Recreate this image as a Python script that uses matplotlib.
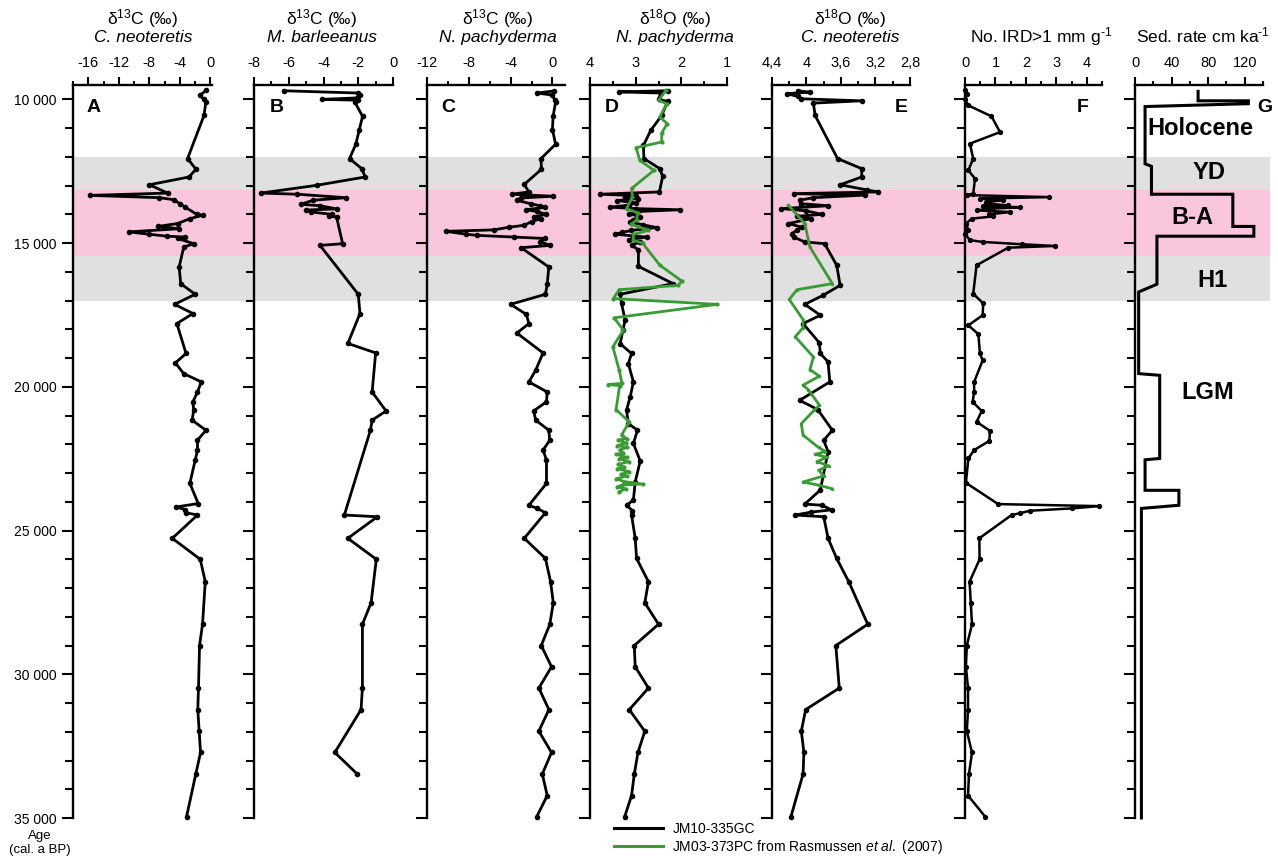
import matplotlib
matplotlib.use("Agg")
import matplotlib.pyplot as plt
from matplotlib.lines import Line2D
from matplotlib.ticker import FixedLocator

plt.rcParams["font.family"] = ["Liberation Sans", "DejaVu Sans"]
plt.rcParams["mathtext.fontset"] = "custom"
plt.rcParams["mathtext.rm"] = "Liberation Sans"
plt.rcParams["mathtext.it"] = "Liberation Sans:italic"
plt.rcParams["mathtext.bf"] = "Liberation Sans:bold"
plt.rcParams["axes.unicode_minus"] = False

# ---- data: (age cal. a BP, value) ----
a_d13c_cneo = [
    (9690, -0.6), (9860, -1.35), (10000, -0.9), (10090, -0.6), (10560, -0.85),
    (12060, -3.0), (12430, -1.9), (12700, -2.8), (12970, -8.0), (13260, -5.6),
    (13340, -15.8), (13420, -6.7), (13490, -4.8), (13630, -4.0), (13750, -3.3),
    (14000, -1.8), (14030, -1.0), (14150, -2.7), (14320, -4.3), (14420, -6.9),
    (14500, -4.1), (14610, -10.7), (14690, -8.1), (14760, -5.7), (14790, -3.3),
    (14840, -4.3), (15020, -2.2), (15140, -3.5), (15830, -4.1), (16410, -3.9),
    (16780, -2.0), (17130, -4.7), (17450, -2.3), (17800, -4.4), (18840, -3.2),
    (19170, -4.6), (19540, -3.5), (19830, -1.2), (20180, -1.7), (20520, -2.3),
    (20810, -2.2), (21160, -2.4), (21510, -0.6), (21860, -1.7), (22200, -1.7),
    (22550, -2.0), (23360, -2.7), (24060, -1.6), (24180, -4.5), (24270, -3.3),
    (24380, -3.2), (24460, -1.7), (25270, -5.0), (26000, -1.34), (26780, -0.68),
    (28260, -1.04), (29000, -1.43), (30480, -1.57), (31230, -1.66), (31980, -1.48),
    (32720, -1.3), (33470, -1.92), (34950, -3.13),
]

b_d13c_mbar = [
    (9700, -6.3), (9780, -2.0), (9850, -1.9), (9950, -2.1), (10000, -4.1),
    (10030, -2.0), (10090, -2.2), (10590, -1.75), (11080, -1.95), (11560, -2.14),
    (12060, -2.5), (12410, -1.8), (12700, -1.6), (12990, -4.4), (13260, -7.6),
    (13300, -5.5), (13420, -2.7), (13510, -4.6), (13650, -5.3), (13700, -4.2),
    (13810, -3.25), (13850, -5.0), (13920, -4.7), (14000, -3.5), (14070, -3.7),
    (14090, -3.25), (15020, -2.9), (15080, -4.2), (16780, -2.0), (17450, -1.9),
    (18490, -2.6), (18820, -1.0), (20180, -1.2), (20840, -0.4), (21160, -1.2),
    (21510, -1.3), (24460, -2.8), (24520, -0.9), (25270, -2.6), (26000, -0.96),
    (27510, -1.26), (28260, -1.76), (30480, -1.76), (31230, -1.84), (32720, -3.35),
    (33470, -2.06),
]

c_d13c_npach = [
    (9710, 0.1), (9780, -1.5), (9850, 0.0), (10010, 0.2), (10090, 0.3),
    (10590, 0.06), (11050, 0.0), (11560, 0.3), (12060, -1.1), (12430, -1.05),
    (12960, -2.7), (13220, -2.25), (13300, -3.9), (13370, 0.06), (13430, -3.0),
    (13510, -3.4), (13630, -2.1), (13700, -1.2), (13750, -0.67), (13840, -2.5),
    (13900, -1.5), (14000, -0.57), (14080, -1.8), (14150, -1.1), (14250, -2.0),
    (14380, -2.7), (14450, -4.2), (14540, -5.6), (14590, -10.2), (14690, -8.3),
    (14730, -7.2), (14790, -3.7), (14840, -0.67), (14950, -1.2), (15080, -0.2),
    (15160, -3.0), (15830, -0.35), (16430, -0.5), (16780, -0.67), (17130, -4.0),
    (17480, -2.5), (17800, -2.25), (18130, -3.4), (18820, -0.9), (19420, -1.6),
    (19830, -2.25), (20180, -0.5), (20520, -0.57), (20840, -1.8), (21160, -1.6),
    (21510, -0.35), (21860, -0.26), (22200, -0.9), (22550, -0.57), (23360, -0.57),
    (24120, -2.25), (24230, -1.46), (24380, -0.67), (25270, -2.7), (25970, -0.67),
    (26780, -0.18), (27510, 0.08), (28260, -0.25), (29000, -1.07), (29740, -0.09),
    (30480, -1.3), (31230, -0.34), (31980, -1.3), (32720, -0.09), (33470, -0.97),
    (34220, -0.5), (34950, -1.5),
]

d_d18o_npach = [
    (9700, 2.3), (9740, 3.36), (9780, 2.45), (10000, 2.5), (10070, 2.3),
    (10560, 2.43), (11080, 2.67), (11600, 2.83), (12060, 2.82), (12410, 2.47),
    (12680, 2.41), (13220, 2.48), (13300, 3.78), (13350, 3.0), (13390, 3.23),
    (13450, 2.95), (13520, 3.4), (13600, 3.0), (13680, 3.15), (13750, 3.56),
    (13800, 3.0), (13840, 2.03), (13900, 2.95), (13980, 3.15), (14080, 2.9),
    (14180, 3.05), (14270, 3.12), (14360, 2.85), (14460, 2.54), (14560, 3.1),
    (14630, 3.3), (14690, 3.45), (14750, 3.05), (14790, 2.76), (14880, 3.15),
    (14960, 2.9), (15080, 3.09), (15230, 2.94), (15810, 2.94), (16410, 2.18),
    (16780, 3.34), (17100, 3.31), (17680, 3.23), (18030, 3.28), (18500, 3.34),
    (18840, 3.09), (19190, 3.16), (19830, 3.05), (20350, 3.12), (20810, 3.2),
    (21280, 3.16), (21510, 2.96), (21970, 3.05), (22580, 2.9), (23310, 3.01),
    (23940, 3.05), (24120, 3.2), (24310, 3.07), (24460, 3.09), (25270, 3.01),
    (25970, 2.98), (26780, 2.72), (27510, 2.80), (28260, 2.50), (29000, 3.03),
    (29740, 3.01), (30480, 2.72), (31230, 3.14), (31980, 2.80), (32720, 2.95),
    (33470, 3.03), (34220, 3.09), (34950, 3.24),
]

# JM03-373PC (Rasmussen et al. 2007)
d_d18o_npach_373 = [
    (9690, 2.34), (10035, 2.5), (10150, 2.32), (10615, 2.47), (10845, 2.31),
    (11170, 2.43), (11485, 2.43), (11680, 2.99), (12120, 2.91), (12470, 2.6),
    (13100, 3.09), (13400, 3.07), (13800, 3.2), (13950, 2.95), (14200, 2.98),
    (14350, 3.1), (14555, 2.72), (14700, 3.05), (14900, 3.05), (15000, 2.85),
    (15770, 2.47), (16320, 1.99), (16470, 2.07), (16620, 3.36), (16930, 3.49),
    (17130, 1.21), (17600, 3.47), (18030, 3.27), (18610, 3.5), (19420, 3.36),
    (19880, 3.3), (19920, 3.6), (19960, 3.35), (20790, 3.43), (21220, 3.14),
    (21680, 3.31), (21800, 3.2), (21850, 3.38), (21950, 3.22), (22050, 3.4),
    (22100, 3.18), (22200, 3.35), (22300, 3.28), (22350, 3.42), (22450, 3.2),
    (22500, 3.36), (22600, 3.15), (22700, 3.38), (22800, 3.25), (22850, 3.4),
    (22950, 3.15), (23050, 3.32), (23100, 3.2), (23200, 3.42), (23300, 3.25),
    (23380, 2.85), (23420, 3.3), (23480, 3.4), (23550, 3.22), (23650, 3.36),
]

e_d18o_cneo = [
    (9700, 4.1), (9750, 3.96), (9800, 4.23), (9900, 4.1), (9980, 4.06),
    (10050, 3.36), (10130, 3.92), (10560, 3.9), (12060, 3.64), (12410, 3.36),
    (12700, 3.36), (12970, 3.61), (13150, 3.3), (13220, 3.17), (13280, 4.15),
    (13330, 3.32), (13420, 3.92), (13510, 4.08), (13630, 4.06), (13700, 3.75),
    (13800, 4.29), (13880, 4.0), (14000, 3.82), (14070, 4.11), (14150, 3.95),
    (14320, 4.21), (14450, 4.05), (14550, 4.11), (14670, 4.17), (14790, 4.15),
    (14960, 4.02), (15020, 3.79), (15770, 3.65), (16470, 3.61), (16820, 3.81),
    (17130, 4.02), (17510, 3.84), (17800, 4.04), (18470, 3.85), (18840, 3.84),
    (19130, 3.75), (19830, 3.73), (20470, 4.08), (20790, 3.87), (21510, 3.70),
    (21860, 3.80), (22260, 3.75), (23590, 3.84), (24080, 4.02), (24120, 3.82),
    (24280, 3.71), (24360, 3.95), (24460, 4.13), (24520, 3.8), (25270, 3.75),
    (25970, 3.65), (26780, 3.51), (28260, 3.29), (29000, 3.66), (30480, 3.62),
    (31230, 4.01), (31980, 4.06), (32720, 4.03), (33470, 4.04), (34950, 4.18),
]

e_d18o_cneo_373 = [
    (13690, 4.21), (14320, 4.02), (15140, 3.96), (16410, 3.70), (16620, 4.11),
    (16960, 4.2), (17660, 4.04), (17940, 4.04), (18260, 4.13), (18960, 3.92),
    (19400, 3.96), (19630, 3.85), (19940, 4.04), (20100, 3.98), (20640, 3.85),
    (20810, 3.91), (21280, 4.06), (21680, 4.04), (22110, 3.86), (22250, 3.78),
    (22350, 3.9), (22450, 3.76), (22600, 3.88), (22750, 3.74), (22900, 3.86),
    (23100, 3.8), (23310, 4.04), (23420, 3.86), (23540, 3.71),
]

f_ird = [
    (9690, 0.0), (9800, 0.05), (10000, 0.0), (10210, 0.11), (10590, 0.87),
    (11140, 1.15), (11540, 0.16), (12060, 0.27), (12470, 0.11), (12760, 0.33),
    (13280, 0.27), (13330, 0.05), (13400, 2.77), (13450, 0.49), (13510, 1.26),
    (13570, 0.7), (13630, 0.77), (13690, 1.42), (13720, 0.6), (13750, 1.8),
    (13800, 0.9), (13860, 0.38), (13920, 1.48), (14000, 0.8), (14070, 0.93),
    (14150, 0.22), (14320, 0.03), (14550, 0.11), (14670, 0.0), (14900, 0.16),
    (14960, 0.6), (15040, 1.86), (15100, 2.95), (15160, 1.42), (15770, 0.38),
    (16760, 0.27), (17100, 0.6), (17510, 0.58), (17860, 0.11), (18170, 0.44),
    (18840, 0.49), (19080, 0.58), (19830, 0.3), (20180, 0.3), (20520, 0.25),
    (20840, 0.55), (21220, 0.38), (21530, 0.82), (21880, 0.8), (22200, 0.3),
    (22490, 0.11), (23340, 0.03), (24080, 1.09), (24150, 4.4), (24230, 3.5),
    (24310, 2.13), (24400, 1.8), (24460, 1.53), (25270, 0.47), (26000, 0.48),
    (26780, 0.15), (27510, 0.19), (28260, 0.23), (29000, 0.06), (29740, 0.03),
    (30480, 0.1), (31230, 0.1), (31980, 0.06), (32720, 0.23), (33470, 0.13),
    (34220, 0.1), (34950, 0.66),
]

# sedimentation rate, drawn as a step profile
g_sedrate = [
    (9720, 69), (10050, 69), (10050, 124), (10150, 124), (10250, 11),
    (12240, 11), (12330, 18), (13300, 18), (13300, 107), (14420, 107),
    (14420, 130), (14760, 130), (14760, 24), (16430, 24), (16700, 4),
    (19540, 4), (19600, 27), (22490, 27), (22540, 11), (23600, 11),
    (23600, 48), (24120, 48), (24230, 7), (35000, 7),
]

periods = [("YD", 12000, 13150), ("B-A", 13150, 15450), ("H1", 15450, 17000)]
period_colors = {"YD": "#e0e0e0", "B-A": "#f9c6dd", "H1": "#e0e0e0"}
era_labels = [("Holocene", 71, 11000), ("YD", 81, 12550), ("B-A", 63, 14100),
              ("H1", 85, 16300), ("LGM", 80, 20200)]

age_major = list(range(10000, 35001, 5000))
age_minor = list(range(10000, 35001, 1000))

GREEN = "#3a9b35"
W, H = 1278, 857
TOP_PX, BOT_PX = 85, 818
AGE_TOP, AGE_BOT = 9500, 35000


def fx(px):
    return px / W


def fy(py):
    return 1 - py / H


fig = plt.figure(figsize=(W / 100, H / 100), dpi=100)

# shaded climate intervals behind all columns
bg = fig.add_axes([fx(73), fy(BOT_PX), fx(1270 - 73), (BOT_PX - TOP_PX) / H])
bg.set_ylim(AGE_BOT, AGE_TOP)
bg.set_xlim(0, 1)
bg.axis("off")
for name, a0, a1 in periods:
    bg.axhspan(a0, a1, color=period_colors[name], lw=0, zorder=0)

# column layout: left px, right px, xlim, major ticks, labels, minor ticks
panels = {
    "A": dict(px=(73, 212), xlim=(-18, 0.2), major=[-16, -12, -8, -4, 0],
              labels=["-16", "-12", "-8", "-4", "0"], minor=[-18, -14, -10, -6, -2],
              title=("δ$^{13}$C (‰)", "C. neoteretis"), tx=143),
    "B": dict(px=(254, 393), xlim=(-8, 0), major=[-8, -6, -4, -2, 0],
              labels=["-8", "-6", "-4", "-2", "0"], minor=[-7, -5, -3, -1],
              title=("δ$^{13}$C (‰)", "M. barleeanus"), tx=322),
    "C": dict(px=(427, 565), xlim=(-12, 1.2), major=[-12, -8, -4, 0],
              labels=["-12", "-8", "-4", "0"], minor=[-10, -6, -2],
              title=("δ$^{13}$C (‰)", "N. pachyderma"), tx=498),
    "D": dict(px=(590, 727), xlim=(4, 1), major=[4, 3, 2, 1],
              labels=["4", "3", "2", "1"], minor=[3.5, 2.5, 1.5],
              title=("δ$^{18}$O (‰)", "N. pachyderma"), tx=675),
    "E": dict(px=(772, 910), xlim=(4.4, 2.8), major=[4.4, 4.0, 3.6, 3.2, 2.8],
              labels=["4,4", "4", "3,6", "3,2", "2,8"], minor=[4.2, 3.8, 3.4, 3.0],
              title=("δ$^{18}$O (‰)", "C. neoteretis"), tx=850),
    "F": dict(px=(965, 1102), xlim=(0, 4.5), major=[0, 1, 2, 3, 4],
              labels=["0", "1", "2", "3", "4"], minor=[0.5, 1.5, 2.5, 3.5, 4.5],
              title=(None, r"No. IRD>1 mm g$^{\text{-1}}$"), tx=1041),
    "G": dict(px=(1135, 1263), xlim=(0, 140), major=[0, 40, 80, 120],
              labels=["0", "40", "80", "120"], minor=[20, 60, 100, 140],
              title=(None, r"Sed. rate cm ka$^{\text{-1}}$"), tx=1203),
}
letter_pos = {"A": (0.10, "left"), "B": (0.115, "left"), "C": (0.10, "left"),
              "D": (0.11, "left"), "E": (0.935, "center"), "F": (0.86, "center"),
              "G": (1.016, "center")}

axes = {}
for key, p in panels.items():
    l, r = p["px"]
    ax = fig.add_axes([fx(l), fy(BOT_PX), fx(r - l), (BOT_PX - TOP_PX) / H])
    ax.set_facecolor("none")
    ax.set_xlim(*p["xlim"])
    ax.set_ylim(AGE_BOT, AGE_TOP)
    for s in ("right", "bottom"):
        ax.spines[s].set_visible(False)
    for s in ("left", "top"):
        ax.spines[s].set_linewidth(1.7)
    ax.xaxis.tick_top()
    ax.xaxis.set_major_locator(FixedLocator(p["major"]))
    ax.xaxis.set_minor_locator(FixedLocator(p["minor"]))
    ax.set_xticklabels(p["labels"])
    ax.tick_params(axis="x", which="major", direction="out", length=5.5, width=1.5,
                   labelsize=10.5, pad=5)
    ax.tick_params(axis="x", which="minor", direction="out", length=3, width=1.5)
    ax.yaxis.set_major_locator(FixedLocator(age_major))
    ax.yaxis.set_minor_locator(FixedLocator(age_minor))
    ax.tick_params(axis="y", which="major", direction="out", length=8, width=1.5,
                   labelsize=10, pad=4)
    ax.tick_params(axis="y", which="minor", direction="out", length=6, width=1.5)
    if key == "A":
        ax.set_yticklabels([f"{v:,}".replace(",", " ") for v in age_major])
    else:
        ax.tick_params(axis="y", labelleft=False)

    line1, line2 = p["title"]
    if line1:
        fig.text(fx(p["tx"]), fy(24), line1, ha="center", va="baseline", fontsize=12.5)
    fig.text(fx(p["tx"]), fy(42), line2, ha="center", va="baseline", fontsize=12.5,
             style="italic" if line1 else "normal")

    lx, lha = letter_pos[key]
    ax.text(lx, 0.969, key, transform=ax.transAxes, ha=lha, va="center",
            fontsize=14, fontweight="bold")
    axes[key] = ax


def draw(ax, series, color="k", lw=2.0, ms=3.0, z=3):
    ages = [a for a, _ in series]
    vals = [v for _, v in series]
    ax.plot(vals, ages, "-o", color=color, lw=lw, ms=ms, zorder=z, clip_on=False)


draw(axes["A"], a_d13c_cneo)
draw(axes["B"], b_d13c_mbar)
draw(axes["C"], c_d13c_npach)
draw(axes["D"], d_d18o_npach)
draw(axes["D"], d_d18o_npach_373, color=GREEN, lw=2.0, ms=2.0, z=4)
draw(axes["E"], e_d18o_cneo)
draw(axes["E"], e_d18o_cneo_373, color=GREEN, lw=2.0, ms=1.5, z=4)
draw(axes["F"], f_ird, lw=1.8, ms=2.8)

gax = axes["G"]
gax.plot([v for _, v in g_sedrate], [a for a, _ in g_sedrate], color="k", lw=2.2,
         zorder=3, clip_on=False, solid_joinstyle="miter")
for txt, x, age in era_labels:
    gax.text(x, age, txt, ha="center", va="center", fontsize=17, fontweight="bold")

fig.text(fx(40), fy(836), "Age", ha="center", va="center", fontsize=9.5)
fig.text(fx(40), fy(850), "(cal. a BP)", ha="center", va="center", fontsize=9.5)

handles = [Line2D([], [], color="k", lw=2.2), Line2D([], [], color=GREEN, lw=2.2)]
fig.legend(handles, ["JM10-335GC", r"JM03-373PC from Rasmussen $\mathit{et\ al.}$ (2007)"],
           loc="upper left", bbox_to_anchor=(fx(614), fy(822)), frameon=False,
           fontsize=10, handlelength=3.5, handletextpad=0.7, labelspacing=0.15,
           borderpad=0, borderaxespad=0)

fig.savefig("out.png", dpi=100)
